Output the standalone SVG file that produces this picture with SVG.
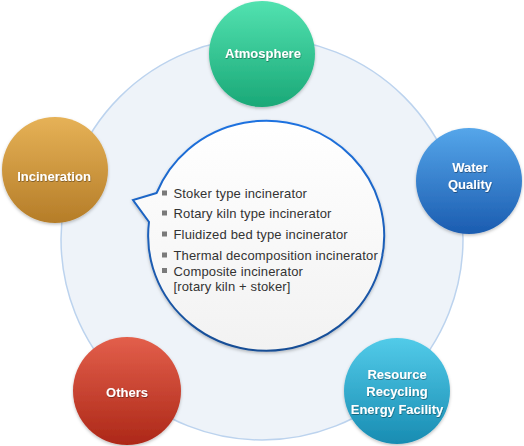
<svg xmlns="http://www.w3.org/2000/svg" width="524" height="446" viewBox="0 0 524 446">
<style>
.lbl{font-family:"Liberation Sans",Arial,sans-serif;font-size:13px;font-weight:bold;fill:#ffffff;text-anchor:middle}
.item{font-family:"Liberation Sans",Arial,sans-serif;font-size:13px;fill:#333333;letter-spacing:0.15px}
.bul{fill:#7a7a7a}
</style>
<defs>
<linearGradient id="gGreen" x1="0" y1="0" x2="0" y2="1"><stop offset="0" stop-color="#52e2b0"/><stop offset="1" stop-color="#1aa877"/></linearGradient>
<linearGradient id="gGold" x1="0" y1="0" x2="0" y2="1"><stop offset="0" stop-color="#e6b257"/><stop offset="1" stop-color="#b57d28"/></linearGradient>
<linearGradient id="gBlue" x1="0" y1="0" x2="0" y2="1"><stop offset="0" stop-color="#55a6ea"/><stop offset="1" stop-color="#1b5cb0"/></linearGradient>
<linearGradient id="gCyan" x1="0" y1="0" x2="0" y2="1"><stop offset="0" stop-color="#52cbe9"/><stop offset="1" stop-color="#188cb2"/></linearGradient>
<linearGradient id="gRed" x1="0" y1="0" x2="0" y2="1"><stop offset="0" stop-color="#e35f4b"/><stop offset="1" stop-color="#ad2818"/></linearGradient>
<linearGradient id="gBubFill" x1="0" y1="0" x2="0" y2="1"><stop offset="0" stop-color="#ffffff"/><stop offset="1" stop-color="#f2f2f2"/></linearGradient>
<linearGradient id="gBubStroke" x1="0" y1="0" x2="0" y2="1"><stop offset="0" stop-color="#1f72e0"/><stop offset="1" stop-color="#184d94"/></linearGradient>
<filter id="sh" x="-20%" y="-20%" width="140%" height="140%"><feDropShadow dx="0" dy="1.5" stdDeviation="1.5" flood-color="#000" flood-opacity="0.25"/></filter>
<filter id="tsh" x="-10%" y="-30%" width="120%" height="160%"><feDropShadow dx="0.5" dy="0.8" stdDeviation="0.6" flood-color="#000" flood-opacity="0.45"/></filter>
</defs>
<rect width="524" height="446" fill="#ffffff"/>
<circle cx="262" cy="239" r="201" fill="#eef3f9" stroke="#bcd3ee" stroke-width="1.5"/>
<g id="connectors"></g>
<g id="bubble">
<path d="M156.6 193 L133 200 L149 222 A118 115 0 1 0 156.6 193 Z" fill="url(#gBubFill)" stroke="url(#gBubStroke)" stroke-width="2" stroke-linejoin="miter" filter="url(#sh)"/>
<rect class="bul" x="162" y="190.5" width="5" height="5"/>
<text class="item" x="173.5" y="198">Stoker type incinerator</text>
<rect class="bul" x="162" y="210.5" width="5" height="5"/>
<text class="item" x="173.5" y="218">Rotary kiln type incinerator</text>
<rect class="bul" x="162" y="231.5" width="5" height="5"/>
<text class="item" x="173.5" y="239">Fluidized bed type incinerator</text>
<rect class="bul" x="162" y="252.5" width="5" height="5"/>
<text class="item" x="173.5" y="260">Thermal decomposition incinerator</text>
<rect class="bul" x="162" y="268" width="5" height="5"/>
<text class="item" x="173.5" y="275.5">Composite incinerator</text>
<text class="item" x="173.5" y="290.5">[rotary kiln + stoker]</text>
</g>
<g id="atmosphere">
<circle cx="262" cy="54" r="53" fill="url(#gGreen)" filter="url(#sh)"/>
<text class="lbl" x="263" y="58" filter="url(#tsh)">Atmosphere</text>
</g>
<g id="incineration">
<circle cx="55" cy="170" r="53" fill="url(#gGold)" filter="url(#sh)"/>
<text class="lbl" x="54" y="181" filter="url(#tsh)">Incineration</text>
</g>
<g id="water-quality">
<circle cx="469" cy="181" r="53" fill="url(#gBlue)" filter="url(#sh)"/>
<text class="lbl" x="470" y="172" filter="url(#tsh)">Water</text>
<text class="lbl" x="470" y="189" filter="url(#tsh)">Quality</text>
</g>
<g id="resource-recycling">
<circle cx="397" cy="391" r="53" fill="url(#gCyan)" filter="url(#sh)"/>
<text class="lbl" x="397" y="379" filter="url(#tsh)">Resource</text>
<text class="lbl" x="397" y="396" filter="url(#tsh)">Recycling</text>
<text class="lbl" x="397" y="414" filter="url(#tsh)">Energy Facility</text>
</g>
<g id="others">
<circle cx="127" cy="391" r="54" fill="url(#gRed)" filter="url(#sh)"/>
<text class="lbl" x="127" y="397" filter="url(#tsh)">Others</text>
</g>
</svg>
